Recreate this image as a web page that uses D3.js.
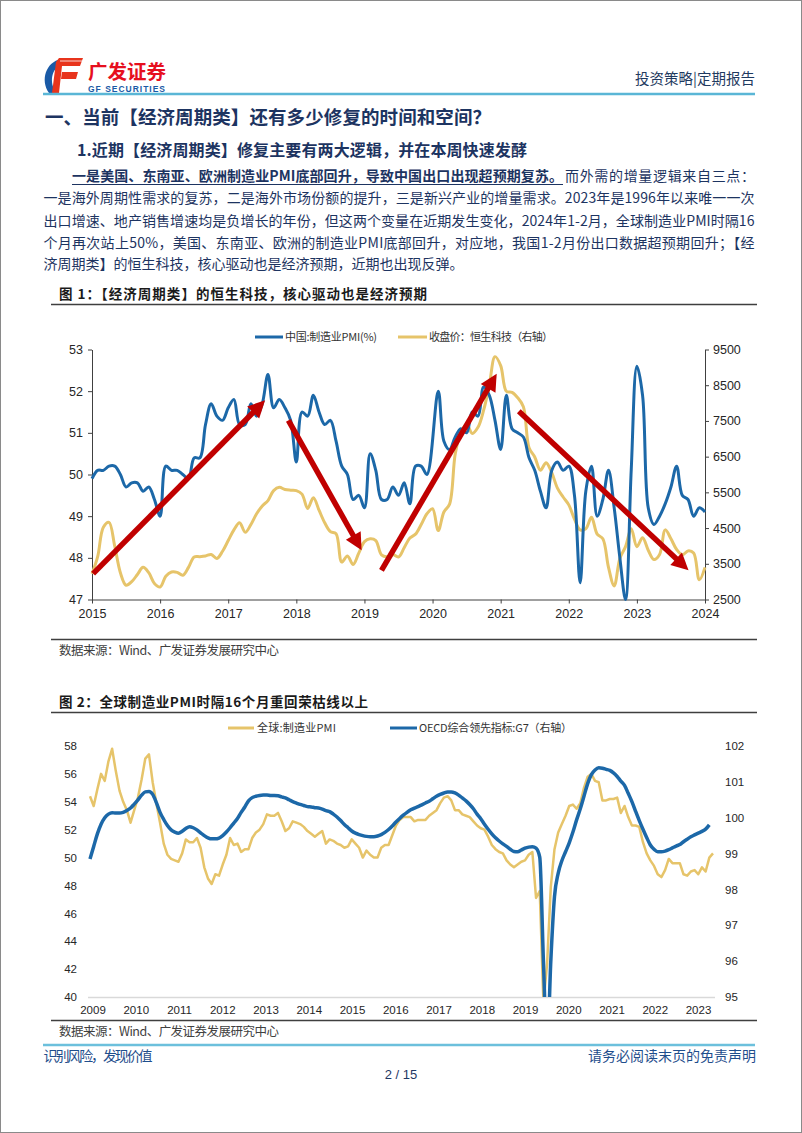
<!DOCTYPE html>
<html><head><meta charset="utf-8">
<script src="https://cdn.jsdelivr.net/npm/d3@7"></script>
<style>
html,body{margin:0;padding:0;background:#fff;}
svg{display:block;}
</style></head><body>
<svg id="page" width="802" height="1133"></svg>
<script>
// ---------------- DATA ----------------
// Figure 1: monthly, index 0 = 2015-01 position on the axis
const fig1Years = [2015,2016,2017,2018,2019,2020,2021,2022,2023,2024];
const fig1LeftTicks = [47,48,49,50,51,52,53];
const fig1RightTicks = [2500,3500,4500,5500,6500,7500,8500,9500];
const chinaPMI = [
 49.9,50.1,50.1,50.2,50.2,50.0,49.7,49.8,49.8,49.6,49.7,
 49.4,49.0,50.2,50.1,50.1,50.0,49.9,50.4,50.4,51.2,51.7,51.4,
 51.3,51.6,51.8,51.2,51.2,51.7,51.4,51.7,52.4,51.6,51.8,51.6,
 51.3,50.3,51.5,51.4,51.9,51.5,51.2,51.3,50.8,50.2,50.0,49.4,
 49.5,49.2,50.5,50.1,49.4,49.4,49.7,49.5,49.8,49.3,50.2,50.2,
 50.0,null,52.0,50.8,50.6,50.9,51.1,51.0,51.5,51.4,52.1,51.9,
 51.3,50.6,51.9,51.1,51.0,50.9,50.4,50.1,49.6,49.2,50.1,50.3,
 50.1,50.2,49.5,47.4,49.6,50.2,49.0,49.4,50.1,49.2,48.0,47.0,
 50.1,52.6,51.9,49.2,48.8,49.0,49.3,49.7,50.2,49.5,49.4,49.0,
 49.2,49.1];
const hsTech = [
 3220,3700,4520,4660,4000,3250,2900,3000,3200,3400,3250,2950,
 2850,3150,3270,3260,3180,3400,3690,3700,3720,3760,3650,3850,
 4150,4450,4650,4380,4600,4900,5120,5270,5550,5640,5580,5560,
 5550,5450,5050,5350,5000,4650,4400,4340,3550,3720,3480,3800,
 4120,4200,4150,3750,3700,3760,3690,3950,4220,4330,4600,4900,
 5040,4430,4950,5170,6580,7180,7400,7150,7320,7800,8500,9300,
 9050,8330,8300,8150,7900,6750,6490,6120,6330,6050,5620,5370,
 5150,4750,4450,4480,4800,4330,4200,3400,2880,3650,3980,4480,
 3980,4230,3880,3620,3760,4450,4200,3900,3750,3860,3800,3050,
 3400];
// arrows (month index, left-axis value)
const arrowFrom = [[0.2,47.62],[34.6,51.3],[51.0,47.7],[75.2,51.52]];
const arrowTo   = [[30.5,51.78],[47.5,48.18],[71.3,52.42],[105.1,47.7]];

// Figure 2: monthly, index 0 = first point
const fig2Years = [2009,2010,2011,2012,2013,2014,2015,2016,2017,2018,2019,2020,2021,2022,2023];
const fig2LeftTicks = [40,42,44,46,48,50,52,54,56,58];
const fig2RightTicks = [95,96,97,98,99,100,101,102];
const globalPMI = [
 54.4,53.7,54.9,56.0,55.5,56.9,57.8,56.2,54.8,54.0,53.4,52.5,
 53.4,54.3,55.6,57.1,57.4,55.4,53.9,52.5,51.0,50.2,49.9,49.8,
 49.7,50.3,51.3,51.1,51.1,51.4,50.7,49.3,48.5,48.1,48.8,48.7,
 49.5,50.2,51.4,50.9,51.0,50.4,50.6,50.6,51.4,51.8,52.0,52.4,
 53.1,53.0,53.0,53.2,52.6,51.9,52.1,52.6,52.5,52.4,52.2,51.9,
 51.7,51.5,51.7,51.9,51.0,51.3,51.2,51.0,50.9,50.7,50.8,51.3,
 51.0,50.7,50.0,50.5,50.2,50.0,50.0,50.7,50.9,50.9,51.6,52.3,
 52.7,52.9,52.9,52.9,52.6,52.7,52.7,52.7,53.0,53.2,53.4,53.9,
 54.3,54.4,54.1,53.4,53.4,53.1,53.0,52.9,52.6,52.3,52.1,52.0,
 51.5,50.9,50.6,50.4,50.3,49.8,49.5,49.3,49.5,49.7,49.8,50.2,
 50.4,47.1,47.6,39.6,42.4,47.9,50.6,51.8,52.4,53.0,53.7,53.8,
 53.5,53.9,55.0,55.8,56.0,55.5,55.4,54.1,54.1,54.2,54.2,54.3,
 53.2,53.7,52.9,52.3,52.3,52.2,51.1,50.3,49.8,49.4,48.8,48.6,
 49.1,49.9,49.6,49.6,49.6,48.8,48.7,49.0,49.1,48.8,49.3,49.0,
 50.0,50.3];
const oecdG7 = [
 98.85,99.2,99.55,99.82,100.0,100.1,100.14,100.13,100.13,100.15,100.2,100.27,
 100.38,100.5,100.63,100.72,100.73,100.65,100.42,100.15,99.95,99.78,99.66,99.6,
 99.57,99.62,99.7,99.75,99.72,99.66,99.58,99.5,99.44,99.41,99.41,99.43,
 99.5,99.6,99.72,99.85,99.98,100.15,100.3,100.47,100.56,100.6,100.62,100.63,
 100.63,100.62,100.62,100.61,100.58,100.55,100.5,100.45,100.41,100.37,100.34,100.31,
 100.3,100.28,100.27,100.24,100.2,100.17,100.1,100.02,99.92,99.81,99.72,99.63,
 99.57,99.53,99.5,99.48,99.47,99.47,99.49,99.53,99.59,99.67,99.77,99.88,
 99.98,100.07,100.15,100.22,100.27,100.31,100.36,100.41,100.46,100.53,100.6,100.65,
 100.69,100.72,100.72,100.69,100.63,100.55,100.47,100.37,100.25,100.1,99.97,99.82,
 99.68,99.55,99.44,99.35,99.27,99.2,99.12,99.06,99.05,99.1,99.15,99.18,
 99.19,99.15,98.9,96.0,93.5,96.0,97.8,98.45,98.8,99.05,99.3,99.6,
 99.94,100.25,100.6,100.95,101.2,101.33,101.39,101.38,101.35,101.32,101.25,101.15,
 101.02,100.9,100.68,100.45,100.18,99.92,99.68,99.45,99.24,99.12,99.05,99.05,
 99.07,99.11,99.16,99.21,99.25,99.33,99.4,99.47,99.52,99.57,99.62,99.68,
 99.8];

// ---------------- TEXT ----------------
const headerRight = "投资策略|定期报告";
const heading1 = "一、当前【经济周期类】还有多少修复的时间和空间？";
const heading2 = "1.近期【经济周期类】修复主要有两大逻辑，并在本周快速发酵";
const paraBold = "一是美国、东南亚、欧洲制造业PMI底部回升，导致中国出口出现超预期复苏。";
const paraRest = "而外需的增量逻辑来自三点：";
const paraLines = [
 "一是海外周期性需求的复苏，二是海外市场份额的提升，三是新兴产业的增量需求。2023年是1996年以来唯一一次",
 "出口增速、地产销售增速均是负增长的年份，但这两个变量在近期发生变化，2024年1-2月，全球制造业PMI时隔16",
 "个月再次站上50%，美国、东南亚、欧洲的制造业PMI底部回升，对应地，我国1-2月份出口数据超预期回升；【经",
 "济周期类】的恒生科技，核心驱动也是经济预期，近期也出现反弹。"];
const fig1Title = "图 1：【经济周期类】的恒生科技，核心驱动也是经济预期";
const fig2Title = "图 2：全球制造业PMI时隔16个月重回荣枯线以上";
const fig1Legend = ["中国:制造业PMI(%)","收盘价：恒生科技（右轴）"];
const fig2Legend = ["全球:制造业PMI","OECD综合领先指标:G7（右轴）"];
const sourceText = "数据来源：Wind、广发证券发展研究中心";
const footLeft = "识别风险，发现价值";
const footRight = "请务必阅读末页的免责声明";
const pageNo = "2 / 15";

// ---------------- DRAW ----------------
const CJK = '"Noto Sans CJK SC","Noto Sans",sans-serif';
const LAT = '"Liberation Sans",Arial,sans-serif';
const NAVY = '#1d3461';
const BLUE = '#1c68a8';
const GOLD = '#e6c46a';
const RED = '#c00000';
const fmt = d3.format('d');

const svg = d3.select('#page');
svg.append('rect').attr('x',0).attr('y',0).attr('width',802).attr('height',1133).attr('fill','#fff');
svg.append('rect').attr('x',0.5).attr('y',0.5).attr('width',801).attr('height',1132)
  .attr('fill','none').attr('stroke','#8a8a8a').attr('stroke-width',1);

function txt(x,y,s,o={}){
  const t = svg.append('text').attr('x',x).attr('y',y).text(s)
    .attr('font-family',o.family||CJK).attr('font-size',o.size||14)
    .attr('fill',o.fill||NAVY).attr('font-weight',o.weight||'normal')
    .attr('text-anchor',o.anchor||'start');
  if(o.len){t.attr('textLength',o.len).attr('lengthAdjust','spacing');}
  return t;
}

// logo
const logo = svg.append('g');
logo.append('path').attr('d','M61 59 C46 62 40 80 49 93 L56 93 C49 82 51 68 63 64 Z').attr('fill','#1a5aa6');
logo.append('path').attr('d','M59 58 L83 58 L80 66 L62 66 L59 93 L52 93 L56 62 Z').attr('fill','#e8341c');
logo.append('path').attr('d','M62 72 L78 72 L76 79 L61 79 Z').attr('fill','#e8341c');
logo.append('path').attr('d','M60 61 L82 61').attr('stroke','#fff').attr('stroke-width',0.8);
txt(88,79,'广发证券',{size:19.5,weight:'bold',fill:'#e60f1e',len:78});
txt(88,92,'GF SECURITIES',{size:8.5,weight:'bold',fill:'#1a5aa6',family:LAT,len:77});

txt(755,84,headerRight,{size:14.5,anchor:'end',fill:'#1f3a60'});
svg.append('line').attr('x1',43).attr('x2',755).attr('y1',94).attr('y2',94)
  .attr('stroke','#5ab6d6').attr('stroke-width',2.5);

txt(45,124,heading1,{size:18.5,weight:'bold',len:446});
txt(77,156,heading2,{size:16,weight:'bold',len:450});

// paragraph
txt(72,181,paraBold,{size:14,weight:'bold',len:491});
svg.append('line').attr('x1',72).attr('x2',563).attr('y1',184.5).attr('y2',184.5).attr('stroke',NAVY).attr('stroke-width',1);
txt(565,181,paraRest,{size:14,len:190});
const lineY = [203,226,248,269];
paraLines.forEach((s,i)=>{
  txt(43.5,lineY[i],s,i<3?{size:14,len:711}:{size:14});
});

function figHeader(title,ty,ly,tlen){
  txt(59,ty,title,{size:13.5,weight:'bold',fill:'#1a1a1a',len:tlen});
  svg.append('line').attr('x1',51).attr('x2',757).attr('y1',ly).attr('y2',ly).attr('stroke','#3f3f3f').attr('stroke-width',1.5);
}
function figFooter(ly,sy){
  svg.append('line').attr('x1',51).attr('x2',757).attr('y1',ly).attr('y2',ly).attr('stroke','#3f3f3f').attr('stroke-width',1.5);
  txt(59,sy,sourceText,{size:12.5,fill:'#404040',len:220});
}

// ---------- Figure 1 ----------
figHeader(fig1Title,299,304.5,368);
const x1 = d3.scaleLinear().domain([0,108]).range([92,705]);
const yL1 = d3.scaleLinear().domain([47,53]).range([599.5,349.5]);
const yR1 = d3.scaleLinear().domain([2500,9500]).range([599.5,349.5]);

function styleAxis(g,fs){
  g.selectAll('path.domain').attr('stroke','#404040').attr('stroke-width',1);
  g.selectAll('.tick line').attr('stroke','#404040');
  g.selectAll('text').attr('font-family',LAT).attr('font-size',fs).attr('fill','#262626');
}
const gL1 = svg.append('g').attr('transform','translate(92,0)')
  .call(d3.axisLeft(yL1).tickValues(fig1LeftTicks).tickFormat(fmt).tickSize(4).tickSizeOuter(0).tickPadding(5));
styleAxis(gL1,12.5);
const gR1 = svg.append('g').attr('transform','translate(705,0)')
  .call(d3.axisRight(yR1).tickValues(fig1RightTicks).tickFormat(fmt).tickSize(4).tickSizeOuter(0).tickPadding(4));
styleAxis(gR1,12.5);
const gB1 = svg.append('g').attr('transform','translate(0,599.5)')
  .call(d3.axisBottom(x1).tickValues(fig1Years.map((y,i)=>i*12)).tickFormat((d,i)=>fig1Years[i]).tickSize(4).tickSizeOuter(0).tickPadding(6));
styleAxis(gB1,12.5);

svg.append('clipPath').attr('id','clip1').append('rect').attr('x',85).attr('y',340).attr('width',630).attr('height',262);
const plot1 = svg.append('g').attr('clip-path','url(#clip1)');
const goldData1 = hsTech.map((v,i)=>[i,v]);
const blueData1 = chinaPMI.map((v,i)=>[i,v]).filter(d=>d[1]!==null);
plot1.append('path').datum(goldData1)
  .attr('d',d3.line().x(d=>x1(d[0])).y(d=>yR1(d[1])).curve(d3.curveCatmullRom.alpha(0.5)))
  .attr('fill','none').attr('stroke',GOLD).attr('stroke-width',3);
plot1.append('path').datum(blueData1)
  .attr('d',d3.line().x(d=>x1(d[0])).y(d=>yL1(d[1])).curve(d3.curveCatmullRom.alpha(0.5)))
  .attr('fill','none').attr('stroke',BLUE).attr('stroke-width',3);

// arrows
arrowFrom.forEach((f,i)=>{
  const t = arrowTo[i];
  const p0=[x1(f[0]),yL1(f[1])], p1=[x1(t[0]),yL1(t[1])];
  const dx=p1[0]-p0[0], dy=p1[1]-p0[1], L=Math.hypot(dx,dy);
  const ux=dx/L, uy=dy/L, nx=-uy, ny=ux;
  const HL=17, HW=8.5;
  const b=[p1[0]-ux*HL,p1[1]-uy*HL];
  svg.append('line').attr('x1',p0[0]).attr('y1',p0[1]).attr('x2',b[0]+ux*2).attr('y2',b[1]+uy*2)
    .attr('stroke',RED).attr('stroke-width',5.5);
  svg.append('path').attr('d',`M${p1[0]},${p1[1]}L${b[0]+nx*HW},${b[1]+ny*HW}L${b[0]-nx*HW},${b[1]-ny*HW}Z`)
    .attr('fill',RED);
});

// legend 1
svg.append('line').attr('x1',255).attr('x2',283).attr('y1',337).attr('y2',337).attr('stroke',BLUE).attr('stroke-width',3);
txt(285,341,fig1Legend[0],{size:11,fill:'#333',len:92});
svg.append('line').attr('x1',398).attr('x2',427).attr('y1',337).attr('y2',337).attr('stroke',GOLD).attr('stroke-width',3);
txt(429,341,fig1Legend[1],{size:11,fill:'#333',len:124});

figFooter(639.5,655);

// ---------- Figure 2 ----------
figHeader(fig2Title,707,712.5,309);
const x2 = d3.scaleLinear().domain([0,169]).range([90,713]);
const yL2 = d3.scaleLinear().domain([40,58]).range([997,746]);
const yR2 = d3.scaleLinear().domain([95,102]).range([997,746]);
const xYears2 = d3.scalePoint().domain(fig2Years).range([92.5,698]);

svg.append('line').attr('x1',88).attr('x2',715).attr('y1',997.5).attr('y2',997.5).attr('stroke','#d9d9d9').attr('stroke-width',1.5);
const gL2 = svg.append('g').attr('transform','translate(77,0)')
  .call(d3.axisLeft(yL2).tickValues(fig2LeftTicks).tickFormat(fmt).tickSize(0).tickPadding(0));
styleAxis(gL2,11.5); gL2.select('path.domain').remove();
const gR2 = svg.append('g').attr('transform','translate(725,0)')
  .call(d3.axisRight(yR2).tickValues(fig2RightTicks).tickFormat(fmt).tickSize(0).tickPadding(0));
styleAxis(gR2,11.5); gR2.select('path.domain').remove();
const gB2 = svg.append('g').attr('transform','translate(0,1006)')
  .call(d3.axisBottom(xYears2).tickFormat(fmt).tickSize(0).tickPadding(0));
styleAxis(gB2,11.5); gB2.select('path.domain').remove();

svg.append('clipPath').attr('id','clip2').append('rect').attr('x',85).attr('y',738).attr('width',635).attr('height',259);
const plot2 = svg.append('g').attr('clip-path','url(#clip2)');
plot2.append('path').datum(globalPMI.map((v,i)=>[i,v]))
  .attr('d',d3.line().x(d=>x2(d[0])).y(d=>yL2(d[1])))
  .attr('fill','none').attr('stroke',GOLD).attr('stroke-width',2.5).attr('stroke-linejoin','round');
plot2.append('path').datum(oecdG7.map((v,i)=>[i,v]))
  .attr('d',d3.line().x(d=>x2(d[0])).y(d=>yR2(d[1])).curve(d3.curveMonotoneX))
  .attr('fill','none').attr('stroke',BLUE).attr('stroke-width',3.5);

// legend 2
svg.append('line').attr('x1',228).attr('x2',254).attr('y1',728).attr('y2',728).attr('stroke',GOLD).attr('stroke-width',3);
txt(257,732,fig2Legend[0],{size:11,fill:'#333',len:79});
svg.append('line').attr('x1',390).attr('x2',417).attr('y1',728).attr('y2',728).attr('stroke',BLUE).attr('stroke-width',3);
txt(419,732,fig2Legend[1],{size:11,fill:'#333',len:153});

figFooter(1020.5,1036);

// ---------- footer ----------
svg.append('line').attr('x1',43).attr('x2',755).attr('y1',1045).attr('y2',1045).attr('stroke','#6cc0dc').attr('stroke-width',2.5);
txt(43.5,1061,footLeft,{size:14,fill:'#1f4e8c',len:109});
txt(756,1061,footRight,{size:14,fill:'#1f4e8c',anchor:'end'});
txt(401,1079,pageNo,{size:13,fill:'#1f3864',anchor:'middle',family:LAT});
</script></body></html>
